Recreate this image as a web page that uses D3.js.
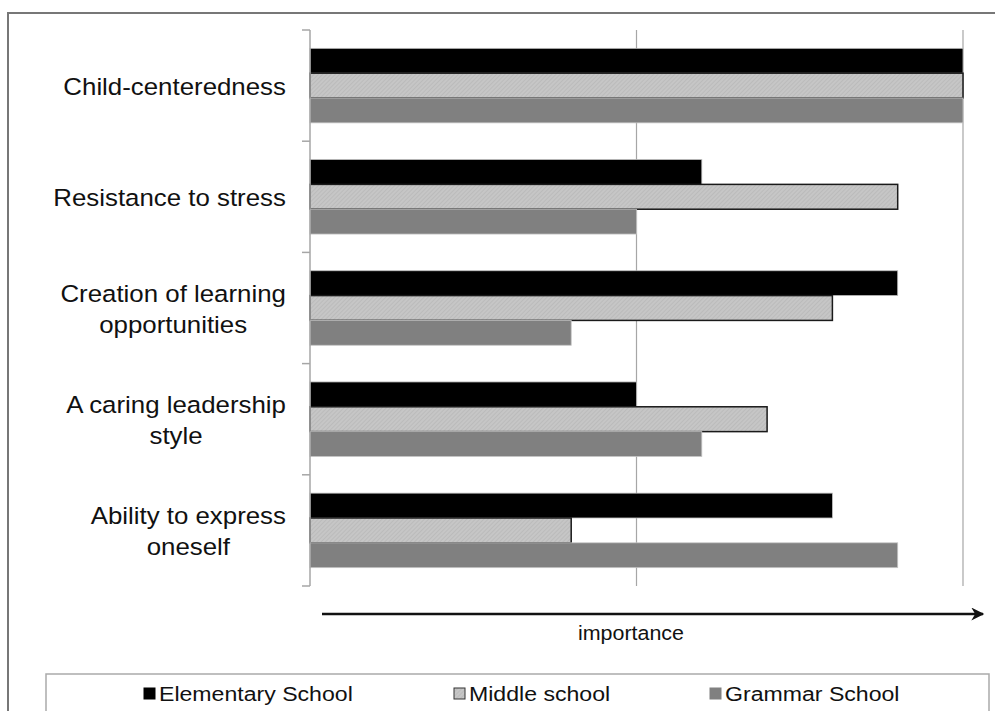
<!DOCTYPE html>
<html>
<head>
<meta charset="utf-8">
<script src="https://cdn.jsdelivr.net/npm/d3@7"></script>
<style>
  body { margin: 0; background: #fff; }
  svg { display: block; }
  text { font-family: "Liberation Sans", Arial, sans-serif; fill: #111; }
</style>
</head>
<body>
<svg id="chart" width="995" height="711"></svg>
<script>
// data
const categories = ["Child-centeredness", "Resistance to stress", "Creation of learning opportunities",
                    "A caring leadership style", "Ability to express oneself"];
const labelLines = [["Child-centeredness"], ["Resistance to stress"], ["Creation of learning", "opportunities"],
                    ["A caring leadership", "style"], ["Ability to express", "oneself"]];
const seriesNames = ["Elementary School", "Middle school", "Grammar School"];
const elementary = [10, 6, 9, 5, 8];
const middle = [10, 9, 8, 7, 4];
const grammar = [10, 5, 4, 6, 9];
const gridValues = [5, 10];
const axisTitle = "importance";

const SX = 1.1; // the picture's text is a little stretched sideways

const svg = d3.select('#chart');

// defs: hatch for middle school bars
const defs = svg.append('defs');
const pat = defs.append('pattern')
    .attr('id', 'hatch')
    .attr('patternUnits', 'userSpaceOnUse')
    .attr('width', 3)
    .attr('height', 3)
    .attr('patternTransform', 'rotate(45)');
pat.append('rect').attr('width', 3).attr('height', 3).attr('fill', '#c6c6c6');
pat.append('line').attr('x1', 0).attr('y1', 0).attr('x2', 0).attr('y2', 3)
    .attr('stroke', '#ababab').attr('stroke-width', 0.8);

defs.append('marker')
    .attr('id', 'arrow')
    .attr('viewBox', '0 0 10 10')
    .attr('refX', 9).attr('refY', 5)
    .attr('markerWidth', 15).attr('markerHeight', 13)
    .attr('markerUnits', 'userSpaceOnUse')
    .attr('orient', 'auto')
    .append('path')
    .attr('d', 'M0,0 L10,5 L0,10 L3,5 Z')
    .attr('fill', '#111');

// outer frame (right and bottom run off the page)
svg.append('path')
    .attr('d', 'M8,711 L8,13 L995,13')
    .attr('fill', 'none')
    .attr('stroke', '#777')
    .attr('stroke-width', 2);

const x = d3.scaleLinear().domain([0, 10]).range([310, 963]);
const y = d3.scaleBand().domain(categories).range([30, 586])
    .paddingInner(0.33).paddingOuter(0.165);
const y1 = d3.scaleBand().domain(seriesNames).range([0, y.bandwidth()]);

// gridlines
svg.selectAll('.grid')
    .data(gridValues)
    .enter().append('line')
    .attr('x1', d => x(d)).attr('x2', d => x(d))
    .attr('y1', 30).attr('y2', 586)
    .attr('stroke', '#a6a6a6')
    .attr('stroke-width', 1.2);

// bars
const fills = ['#000000', 'url(#hatch)', '#808080'];
const strokes = ['#bdbdbd', '#1a1a1a', '#c4c4c4'];
const strokeW = [0.8, 1.5, 0.8];
const allSeries = [elementary, middle, grammar];

categories.forEach((c, i) => {
    const g = svg.append('g').attr('transform', `translate(0,${y(c)})`);
    allSeries.forEach((s, j) => {
        g.append('rect')
            .attr('x', x(0))
            .attr('y', y1(seriesNames[j]))
            .attr('width', x(s[i]) - x(0))
            .attr('height', y1.bandwidth())
            .attr('fill', fills[j])
            .attr('stroke', strokes[j])
            .attr('stroke-width', strokeW[j]);
    });
});

// category axis with ticks at band boundaries
svg.append('line')
    .attr('x1', 310).attr('x2', 310).attr('y1', 30).attr('y2', 586)
    .attr('stroke', '#a6a6a6').attr('stroke-width', 1.5);
const bounds = d3.range(categories.length + 1).map(i => 30 + i * (556 / categories.length));
svg.selectAll('.tick')
    .data(bounds)
    .enter().append('line')
    .attr('x1', 302).attr('x2', 310)
    .attr('y1', d => d).attr('y2', d => d)
    .attr('stroke', '#a6a6a6').attr('stroke-width', 1.5);

// category labels: centred lines, block right-aligned at 286
const lineH = 31;
labelLines.forEach((lines, i) => {
    const cy = y(categories[i]) + y.bandwidth() / 2;
    const g = svg.append('g');
    const texts = lines.map((t, k) => g.append('text')
        .attr('font-size', 23.5)
        .attr('text-anchor', 'middle')
        .text(t));
    const maxW = d3.max(texts, t => t.node().getComputedTextLength()) * SX;
    const cx = 286 - maxW / 2;
    texts.forEach((t, k) => {
        const ty = cy + (k - (lines.length - 1) / 2) * lineH + 9;
        t.attr('transform', `translate(${cx},${ty}) scale(${SX},1)`);
    });
});

// importance arrow
svg.append('line')
    .attr('x1', 322).attr('x2', 983)
    .attr('y1', 614).attr('y2', 614)
    .attr('stroke', '#111').attr('stroke-width', 2.5)
    .attr('marker-end', 'url(#arrow)');

svg.append('text')
    .attr('text-anchor', 'middle')
    .attr('font-size', 19.5)
    .attr('transform', `translate(631,640) scale(${SX},1)`)
    .text(axisTitle);

// legend
svg.append('rect')
    .attr('x', 46).attr('y', 674)
    .attr('width', 943).attr('height', 60)
    .attr('fill', 'none')
    .attr('stroke', '#aaa')
    .attr('stroke-width', 1.5);

const legendX = [144, 454, 710];
const legendFill = ['#000', 'url(#hatch)', '#808080'];
const legendStroke = ['#000', '#333', '#808080'];
seriesNames.forEach((n, i) => {
    svg.append('rect')
        .attr('x', legendX[i]).attr('y', 688)
        .attr('width', 11).attr('height', 11)
        .attr('fill', legendFill[i])
        .attr('stroke', legendStroke[i])
        .attr('stroke-width', 1);
    svg.append('text')
        .attr('font-size', 21)
        .attr('transform', `translate(${legendX[i] + 15},701) scale(${SX},1)`)
        .text(n);
});
</script>
</body>
</html>
